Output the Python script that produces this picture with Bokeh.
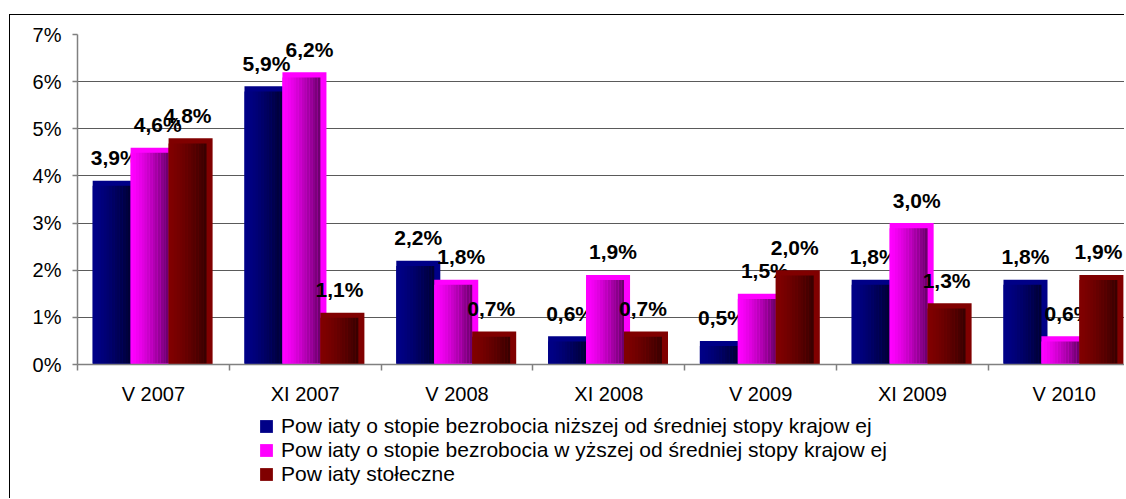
import numpy as np
from bokeh.plotting import figure
from bokeh.layouts import column
from bokeh.models import Range1d, FixedTicker, Legend, LegendItem
from bokeh.core.properties import value
from bokeh.embed import file_html
from bokeh.resources import INLINE

# ---------------- data ----------------
categories = ["V 2007", "XI 2007", "V 2008", "XI 2008", "V 2009", "XI 2009", "V 2010"]
lower = [3.9, 5.9, 2.2, 0.6, 0.5, 1.8, 1.8]      # niższej od średniej
higher = [4.6, 6.2, 1.8, 1.9, 1.5, 3.0, 0.6]     # wyższej od średniej
capital = [4.8, 1.1, 0.7, 0.7, 2.0, 1.3, 1.9]    # stołeczne
series_names = [
    "Pow iaty o stopie bezrobocia niższej od średniej stopy krajow ej",
    "Pow iaty o stopie bezrobocia w yższej od średniej stopy krajow ej",
    "Pow iaty stołeczne",
]
y_ticks = [0, 1, 2, 3, 4, 5, 6, 7]
y_tick_labels = ["0%", "1%", "2%", "3%", "4%", "5%", "6%", "7%"]

# ---------------- styling ----------------
FONT = "Liberation Sans"
base_cols = [(0, 0, 135), (255, 0, 255), (128, 0, 0)]
dark_cols = [(0, 0, 55), (110, 0, 110), (58, 0, 0)]
offsets = [0.10, 0.35, 0.60]      # left edge of each series' bar within category
bar_w = 0.29
inner_w = 0.25
label_dx = [0, 5, -3]

W = 1115
H1, H2 = 395, 89
LEFT, TOP, BOTTOM = 67, 19, 46
cat_px = 151.8
x_end = (W - LEFT) / cat_px

p = figure(width=W, height=H1, output_backend="svg", toolbar_location=None,
           x_range=Range1d(0, x_end), y_range=Range1d(0, 7),
           min_border_left=LEFT, min_border_top=TOP, min_border_bottom=BOTTOM,
           min_border_right=0)
p.margin = (14, 0, 0, 9)
p.styles = {"border-top": "1px solid black", "border-left": "1px solid black"}
p.outline_line_color = None
p.background_fill_color = "white"
p.border_fill_color = "white"

# grid
p.xgrid.grid_line_color = None
p.ygrid.ticker = FixedTicker(ticks=y_ticks)
p.ygrid.grid_line_color = "#5a5a5a"
p.ygrid.grid_line_width = 1.2

# y axis
p.yaxis.ticker = FixedTicker(ticks=y_ticks)
p.yaxis.major_label_overrides = {t: l for t, l in zip(y_ticks, y_tick_labels)}
p.yaxis.axis_line_color = "#808080"
p.yaxis.axis_line_width = 1.5
p.yaxis.major_tick_line_color = "#808080"
p.yaxis.major_tick_line_width = 1.5
p.yaxis.major_tick_out = 5
p.yaxis.major_tick_in = 0
p.yaxis.minor_tick_line_color = None
p.yaxis.major_label_standoff = 11
p.yaxis.major_label_text_font = FONT
p.yaxis.major_label_text_font_size = "20px"
p.yaxis.major_label_text_color = "black"

# x axis: labels at centers, ticks at boundaries (minor ticks)
idx = np.arange(len(categories))
centers = list(idx + 0.5)
p.xaxis.ticker = FixedTicker(ticks=centers, minor_ticks=list(range(len(categories) + 1)))
p.xaxis.major_label_overrides = {c: n for c, n in zip(centers, categories)}
p.xaxis.axis_line_color = "#808080"
p.xaxis.axis_line_width = 1.5
p.xaxis.major_tick_line_color = None
p.xaxis.major_tick_out = 0
p.xaxis.major_tick_in = 0
p.xaxis.minor_tick_line_color = "#808080"
p.xaxis.minor_tick_line_width = 1.5
p.xaxis.minor_tick_out = 6
p.xaxis.minor_tick_in = 0
p.xaxis.major_label_standoff = 12
p.xaxis.major_label_text_font = FONT
p.xaxis.major_label_text_font_size = "20px"
p.xaxis.major_label_text_color = "black"


def rgb(c):
    return "#%02x%02x%02x" % c


N = 14
for s, vals in enumerate([lower, higher, capital]):
    vals = np.array(vals, dtype=float)
    left = idx + offsets[s]
    p.vbar(x=left + bar_w / 2, width=bar_w, top=vals, bottom=0,
           fill_color=rgb(base_cols[s]), line_color=None)
    sw = inner_w / N
    for k in range(N):
        t = (k / (N - 1)) ** 1.3
        col = tuple(int(round(b + (d - b) * t)) for b, d in zip(base_cols[s], dark_cols[s]))
        p.vbar(x=left + (k + 0.5) * sw, width=sw * 1.02, top=vals - 0.11, bottom=0.02,
               fill_color=rgb(col), line_color=None)
    labels = [f"{v:.1f}%".replace(".", ",") for v in vals]
    p.text(x=left + bar_w / 2, y=vals, text=labels, x_offset=label_dx[s], y_offset=-23,
           text_align="center", text_baseline="middle", text_font=value(FONT),
           text_font_size="21px", text_font_style="bold", text_color="black")

# ---------------- legend panel ----------------
q = figure(width=W, height=H2, output_backend="svg", toolbar_location=None,
           x_range=Range1d(0, 1), y_range=Range1d(0, 1),
           x_axis_type=None, y_axis_type=None,
           min_border_left=0, min_border_right=0, min_border_top=0, min_border_bottom=0)
q.margin = (0, 0, 0, 9)
q.styles = {"border-left": "1px solid black"}
q.outline_line_color = None
q.xgrid.grid_line_color = None
q.ygrid.grid_line_color = None
q.background_fill_color = "white"
q.border_fill_color = "white"

legend_items = []
for s in range(3):
    # placeholder renderer outside the visible range, only used for the legend swatch
    r = q.vbar(x=[5.0], top=[5.0], bottom=[4.0], width=0.1,
               fill_color=rgb(base_cols[s]), line_color=None)
    legend_items.append(LegendItem(label=series_names[s], renderers=[r]))

legend = Legend(items=legend_items, location=(181, 12), orientation="vertical",
                glyph_width=16, glyph_height=16, label_standoff=7, spacing=0,
                label_height=23, padding=0, margin=0, border_line_color=None,
                background_fill_alpha=0, label_text_font=FONT,
                label_text_font_size="21px", label_text_color="black")
q.add_layout(legend)

layout = column(p, q, spacing=0)
open("out.html", "w").write(file_html(layout, INLINE))
